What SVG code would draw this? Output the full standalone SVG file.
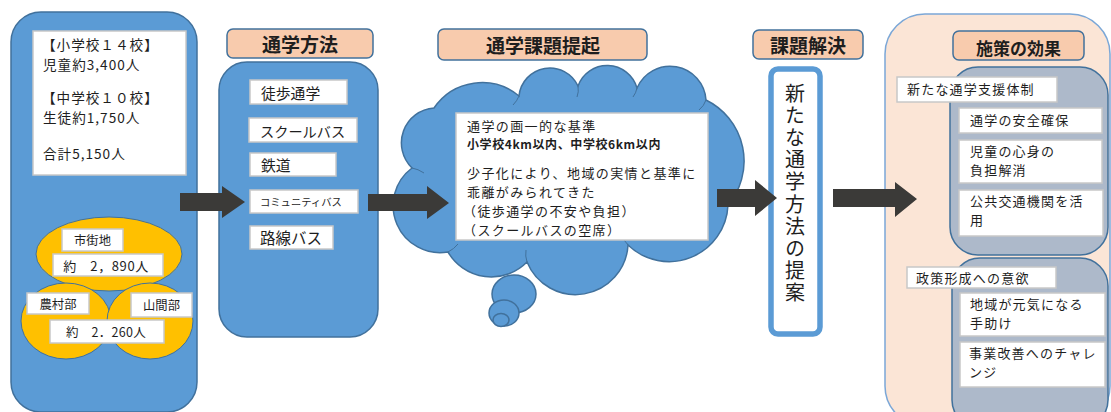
<svg xmlns="http://www.w3.org/2000/svg" width="1111" height="412" viewBox="0 0 1111 412">
<style>
text{font-family:"Noto Sans CJK JP","Noto Sans",sans-serif;fill:#1E1E1E}
.blue{fill:#5B9BD5;stroke:#41719C;stroke-width:1.5}
.hdr{fill:#F8CBAD;stroke:#41719C;stroke-width:1.5}
.wb{fill:#FFFFFF;stroke:#C8C8C8;stroke-width:1.5}
.gold{fill:#FFC000;stroke:#41719C;stroke-width:1}
.gray{fill:#ADB9CA;stroke:#41719C;stroke-width:1.5}
.arrow{fill:#3B3A38}
.h{font-size:19px;font-weight:bold;text-anchor:middle}
.t15{font-size:13.6px;letter-spacing:1px}
.r{font-size:13px;letter-spacing:1.2px}
.c{font-size:13px;letter-spacing:1.4px}
.s12{font-size:12.3px;text-anchor:middle}
.inner{fill:none;stroke:#41719C;stroke-width:1}
</style>

<g id="students">
<rect class="blue" x="11" y="12" width="186" height="400" rx="30"/>
<rect class="wb" x="33" y="31" width="153" height="144"/>
<text class="t15" x="42" y="50">【小学校１４校】</text>
<text class="t15" x="43" y="70">児童約3,400人</text>
<text class="t15" x="42" y="103">【中学校１０校】</text>
<text class="t15" x="43" y="123">生徒約1,750人</text>
<text class="t15" x="43" y="159">合計5,150人</text>
<ellipse class="gold" cx="109" cy="254" rx="73" ry="37"/>
<ellipse class="gold" cx="66" cy="321" rx="45" ry="38"/>
<ellipse class="gold" cx="150" cy="321" rx="43" ry="38"/>
<rect class="wb" x="62" y="229" width="61" height="22"/>
<text class="s12" x="92.5" y="245">市街地</text>
<rect class="wb" x="53" y="254" width="110" height="22"/>
<text x="106" y="271" style="font-size:13px;text-anchor:middle;letter-spacing:0.6px">約　2，890人</text>
<rect class="wb" x="27" y="293" width="62" height="21"/>
<text class="s12" x="58" y="309">農村部</text>
<rect class="wb" x="131" y="293" width="61" height="24"/>
<text class="s12" x="161.5" y="310">山間部</text>
<rect class="wb" x="50" y="320" width="114" height="23"/>
<text x="106" y="337" style="font-size:12.5px;text-anchor:middle;letter-spacing:0.3px">約　2．260人</text>
</g>

<g id="methods">
<rect class="hdr" x="227" y="29" width="146" height="29" rx="6"/>
<text class="h" x="300" y="52">通学方法</text>
<rect class="blue" x="219" y="62" width="159" height="275" rx="28"/>
<rect class="wb" x="250" y="80" width="97" height="24"/>
<text x="261" y="99" style="font-size:14.8px">徒歩通学</text>
<rect class="wb" x="249" y="118" width="108" height="24"/>
<text x="260" y="137" style="font-size:14.2px">スクールバス</text>
<rect class="wb" x="250" y="153" width="86" height="23"/>
<text x="261" y="171" style="font-size:14.8px">鉄道</text>
<rect class="wb" x="250" y="190" width="108" height="23"/>
<text x="260" y="206" style="font-size:10.3px">コミュニティバス</text>
<rect class="wb" x="250" y="226" width="83" height="23"/>
<text x="260" y="244" style="font-size:15.5px">路線バス</text>
</g>

<g id="issues">
<rect class="hdr" x="438" y="29" width="209" height="31" rx="6"/>
<text class="h" x="543" y="53">通学課題提起</text>
<path class="blue" d="M434,108 A58,58 0 0 1 519,96 A31,31 0 0 1 578,86 A31,31 0 0 1 637,88 A36,36 0 0 1 706,100 A68,68 0 0 1 728,205 A59,59 0 0 1 628,245 A52.5,52.5 0 0 1 527,262 A50,50 0 0 1 448,252 A47,47 0 0 1 412,168 A35,35 0 0 1 434,108 Z"/>
<path class="inner" d="M519,96 q-2,5 -6,9 M578,86 q1,6 -1,11 M637,88 q-1,5 -4,9 M706,100 q-2,6 -7,10 M527,262 q-2,-6 -1,-12 M628,245 q-4,-4 -6,-10 M448,252 q6,-3 10,-8 M412,168 q6,1 12,5 M728,205 q-5,-2 -10,-6"/>
<ellipse class="blue" cx="514" cy="294" rx="22" ry="19"/>
<ellipse class="blue" cx="504" cy="313" rx="15" ry="13"/>
<ellipse class="blue" cx="501" cy="320" rx="8" ry="6.5"/>
<rect class="wb" x="456" y="113" width="252" height="127"/>
<text class="c" x="467" y="131">通学の画一的な基準</text>
<text x="467" y="149" style="font-size:12px;font-weight:bold;letter-spacing:0.6px">小学校4km以内、中学校6km以内</text>
<text class="c" x="467" y="178">少子化により、地域の実情と基準に</text>
<text class="c" x="467" y="197">乖離がみられてきた</text>
<text class="c" x="463" y="216">（徒歩通学の不安や負担）</text>
<text class="c" x="463" y="235">（スクールバスの空席）</text>
</g>

<g id="solution">
<rect class="hdr" x="753" y="30" width="110" height="29" rx="6"/>
<text class="h" x="808" y="53">課題解決</text>
<rect x="771" y="69" width="49" height="265" rx="7" fill="#FFFFFF" stroke="#5B9BD5" stroke-width="5.5"/>
<text x="795" y="83" writing-mode="vertical-rl" style="font-size:20px;letter-spacing:2.2px">新たな通学方法の提案</text>
</g>

<g id="effects">
<rect x="885" y="14" width="225" height="412" rx="40" fill="#FBE5D6" stroke="#7BA7D7" stroke-width="1.5"/>
<rect class="hdr" x="953" y="31" width="131" height="29" rx="6"/>
<text x="1018.5" y="55" style="font-size:17px;font-weight:bold;text-anchor:middle">施策の効果</text>
<rect class="gray" x="950" y="67" width="158" height="188" rx="28"/>
<rect class="wb" x="897" y="77" width="160" height="25"/>
<text class="r" x="907" y="94">新たな通学支援体制</text>
<rect class="wb" x="959" y="108" width="143" height="25"/>
<text class="r" x="970" y="125">通学の安全確保</text>
<rect class="wb" x="959" y="140" width="143" height="43"/>
<text class="r" x="970" y="156">児童の心身の</text>
<text class="r" x="970" y="175">負担解消</text>
<rect class="wb" x="959" y="190" width="144" height="46"/>
<text class="r" x="970" y="206">公共交通機関を活</text>
<text class="r" x="970" y="225">用</text>
<rect class="gray" x="952" y="258" width="156" height="170" rx="28"/>
<rect class="wb" x="907" y="267" width="149" height="21"/>
<text class="r" x="916" y="283">政策形成への意欲</text>
<rect class="wb" x="960" y="293" width="145" height="43"/>
<text class="r" x="970" y="309">地域が元気になる</text>
<text class="r" x="970" y="328">手助け</text>
<rect class="wb" x="960" y="342" width="145" height="45"/>
<text class="r" x="969" y="358">事業改善へのチャレ</text>
<text class="r" x="969" y="377">ンジ</text>
</g>

<g id="connectors">
<polygon class="arrow" points="180,193 222,193 222,186 245,202 222,218 222,211 180,211"/>
<polygon class="arrow" points="368,194 427,194 427,186 449,203 427,219 427,211 368,211"/>
<polygon class="arrow" points="717,189 755,189 755,180 777,198 755,216 755,207 717,207"/>
<polygon class="arrow" points="833,189 895,189 895,182 917,199 895,217 895,207 833,207"/>
</g>
</svg>
